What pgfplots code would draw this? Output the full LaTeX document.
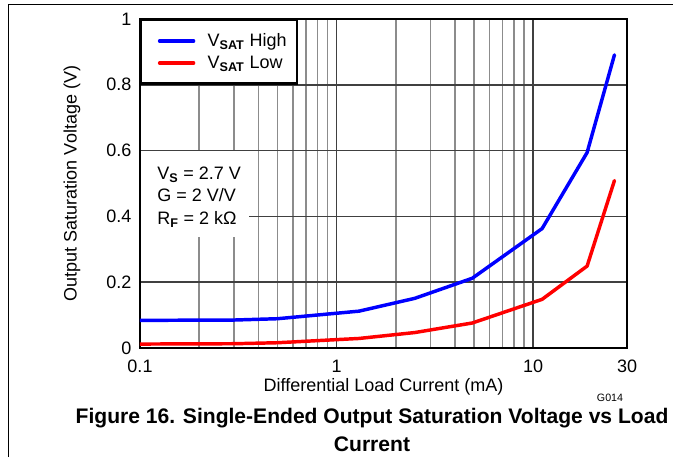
\documentclass[border=0pt]{standalone}
\usepackage{fontspec}
\setmainfont{Liberation Sans}
\usepackage{pgfplots}
\pgfplotsset{compat=1.18}
\newcommand{\fs}{\fontsize{13.5}{16}\selectfont}
\begin{document}
\begin{tikzpicture}
\path[use as bounding box] (0pt,0pt) rectangle (504.75pt,342.75pt);
\draw[line width=0.75pt] (6.2pt,0pt) -- (6.2pt,339pt) -- (504.75pt,339pt);
\begin{axis}[
  at={(105pt,81.75pt)}, anchor=south west,
  scale only axis, width=365.25pt, height=246.75pt,
  xmode=log, xmin=0.1, xmax=30, ymin=0, ymax=1,
  log ticks with fixed point,
  extra x ticks={30}, extra x tick labels={30},
  extra x tick style={grid=none},
  ytick={0,0.2,0.4,0.6,0.8,1}, yticklabels={0,0.2,0.4,0.6,0.8,1},
  grid=both,
  major grid style={line width=1.1pt, color=black!75},
  minor grid style={line width=1.1pt, color=black!45},
  major tick length=0pt, minor tick length=0pt,
  axis line style={line width=2pt},
  tick label style={font=\fs},
  /pgf/number format/assume math mode=true,
  yticklabel style={xshift=-3pt},
  xticklabel style={yshift=-5.5pt},
  xlabel={Differential Load Current (mA)},
  ylabel={Output Saturation Voltage (V)},
  label style={font=\fs},
  xlabel style={at={(axis description cs:0.5,-0.118)}, anchor=center},
  ylabel style={at={(axis description cs:-0.1396,0.5)}, anchor=center},
  legend style={at={(rel axis cs:0,1)}, anchor=north west, draw=black,
    line width=1.8pt, fill=white, font=\fs, inner xsep=6pt, inner ysep=9pt,
    row sep=3.5pt, column sep=7.5pt, nodes={inner xsep=1.75pt, inner ysep=1pt}},
  legend cell align=left,
  legend image code/.code={\path (0pt,0pt); \draw[#1] (6.5pt,0pt) -- (32pt,0pt);},
]
\fill[white] ([xshift=1.1pt]rel axis cs:0,0.6) rectangle (rel axis cs:0.2238,0.337);
\node[anchor=north west, align=left, inner sep=0pt, font=\fontsize{13.5}{16.9}\selectfont]
  at (rel axis cs:0.035,0.552)
  {V\textsubscript{\textbf{S}} = 2.7 V\\G = 2 V/V\\R\textsubscript{\textbf{F}} = 2 kΩ};
\addplot[color={rgb,255:red,0;green,0;blue,255}, line width=2.6pt, line cap=round, line join=round]
  coordinates {(0.1,0.084) (0.3,0.085) (0.5,0.089) (1.3,0.112) (2.5,0.151) (4.9,0.212) (11.1,0.363) (18.8,0.594) (25.9,0.891)};
\addlegendentry{V\textsubscript{\textbf{SAT}} High}
\addplot[color={rgb,255:red,255;green,0;blue,0}, line width=2.6pt, line cap=round, line join=round]
  coordinates {(0.1,0.012) (0.3,0.013) (0.5,0.016) (1.3,0.029) (2.5,0.047) (4.9,0.076) (11.1,0.148) (18.8,0.249) (25.9,0.509)};
\addlegendentry{V\textsubscript{\textbf{SAT}} Low}
\end{axis}
\node[font=\fontsize{8}{9}\selectfont] at (457.5pt,44.5pt) {G014};
\node[align=center, font=\fontsize{15.8}{21}\bfseries\selectfont] at (279pt,20pt)
  {Figure 16. Single-Ended Output Saturation Voltage vs Load\\Current};
\end{tikzpicture}
\end{document}
